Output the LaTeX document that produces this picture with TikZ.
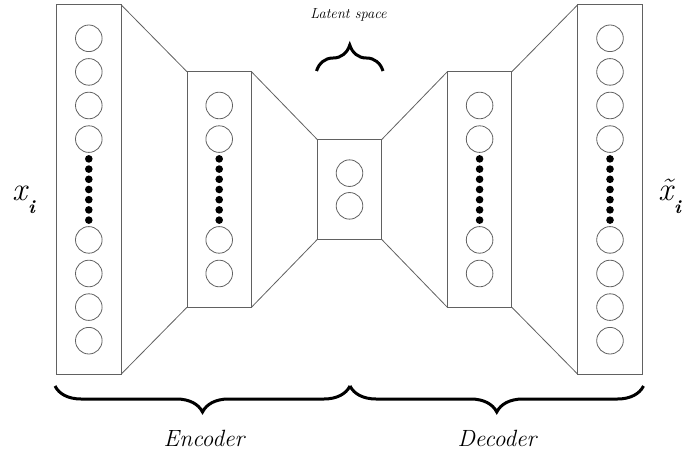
\documentclass[tikz,border=0pt]{standalone}
\usepackage{fontspec}
\usetikzlibrary{decorations.pathreplacing}
\begin{document}
\begin{tikzpicture}[x=1pt,y=-1pt,
  layer/.style={draw=black!62, line width=0.8pt, minimum width=64.5pt, inner sep=0pt, outer sep=0pt},
  unit/.style={circle, draw=black!62, line width=0.8pt, minimum size=26.6pt, inner sep=0pt},
  dot/.style={circle, fill=black, minimum size=7.6pt, inner sep=0pt},
  link/.style={draw=black!62, line width=0.8pt},
  bracket/.style={decorate, decoration={brace, amplitude=26pt}, line width=3pt},
  label/.style={inner sep=0pt}
]
\useasboundingbox (0,0) rectangle (684,454);

% layers of the network
\node[layer, minimum height=369.5pt] (in)  at (88.8,189.5) {};
\node[layer, minimum height=235.6pt] (e1)  at (219.2,189.5) {};
\node[layer, minimum height=100pt]   (z)   at (349.5,189.5) {};
\node[layer, minimum height=235.6pt] (d1)  at (479.6,189.5) {};
\node[layer, minimum height=369.5pt] (out) at (610.0,189.5) {};

% funnel edges between consecutive layers
\foreach \a/\b in {in/e1, e1/z, z/d1, d1/out} {
  \draw[link] (\a.north east) -- (\b.north west);
  \draw[link] (\a.south east) -- (\b.south west);
}

% units of the outer layers (eight each)
\foreach \l in {in, out} {
  \foreach \k/\dy in {1/-151.2, 2/-117.6, 3/-84, 4/-50.4, 5/50.4, 6/84, 7/117.6, 8/151.2} {
    \node[unit] (\l-u\k) at ([yshift=-\dy pt]\l.center) {};
  }
}
% units of the hidden layers (four each)
\foreach \l in {e1, d1} {
  \foreach \k/\dy in {1/-84, 2/-50.4, 3/50.4, 4/84} {
    \node[unit] (\l-u\k) at ([yshift=-\dy pt]\l.center) {};
  }
}
% latent units
\node[unit] (z-u1) at ([yshift=16.35pt]z.center) {};
\node[unit] (z-u2) at ([yshift=-16.35pt]z.center) {};

% ellipsis dots
\foreach \l in {in, e1, d1, out} {
  \foreach \k in {-3,...,3} {
    \node[dot] (\l-dot\k) at ([yshift=\k*10.2pt]\l.center) {};
  }
}

% braces
\coordinate (encL) at (55,386);
\coordinate (mid)  at (350,386);
\coordinate (decR) at (643.5,386);
\draw[bracket, decoration={mirror}] (encL) -- (mid);
\draw[bracket, decoration={mirror}] (mid) -- (decR);
\coordinate (latL) at (316.5,71);
\coordinate (latR) at (383,71);
\draw[bracket] (latL) -- (latR);

% labels
\node[label, font=\fontsize{14.5}{16}\selectfont\itshape] (lat) at (348.5,15) {Latent space};
\node[label, anchor=base, font=\fontsize{23.5}{26}\selectfont\itshape] (enc) at (204,446.7) {Encoder};
\node[label, anchor=base, font=\fontsize{23.5}{26}\selectfont\itshape] (dec) at (497,446.7) {Decoder};
\node[label, anchor=base west, font=\itshape] (xin) at (12,200.7)
  {\fontsize{33}{33}\selectfont x\hspace{1pt}\raisebox{-12.6pt}{\fontsize{19}{19}\selectfont\bfseries i}};
\node[label, anchor=base west, font=\itshape] (xout) at (658,200.7)
  {\fontsize{33}{33}\selectfont \~{x}\hspace{1pt}\raisebox{-12.6pt}{\fontsize{19}{19}\selectfont\bfseries i}};
\end{tikzpicture}
\end{document}
